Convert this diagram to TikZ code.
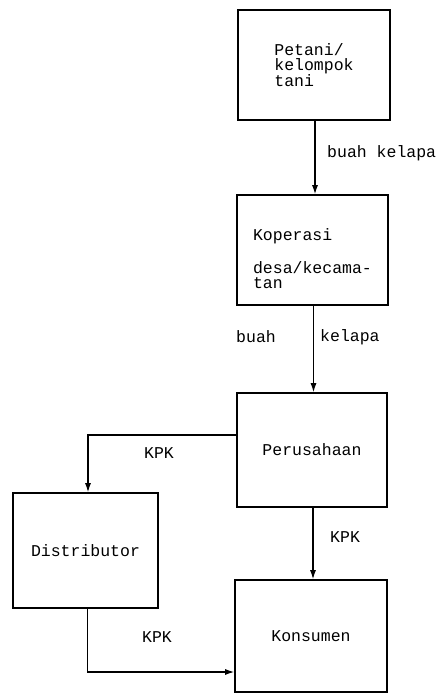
\documentclass[tikz,border=0pt]{standalone}
\usepackage{fontspec}
\setmonofont{Liberation Mono}
\usetikzlibrary{arrows.meta,positioning}

\begin{document}
\begin{tikzpicture}[x=1pt,y=-1pt,
	font=\ttfamily\fontsize{16.5}{15.5}\selectfont,
	blok/.style={draw,line width=1.6pt,align=left,inner sep=0pt},
	alir/.style={line width=1.2pt,-{Latex[length=9pt,width=6pt]}},
	ket/.style={inner sep=1pt}]
	\useasboundingbox (0,0) rectangle (446,695);
	% kotak
	\node[blok,minimum width=152,minimum height=110] (petani) at (314,65) {Petani/\\kelompok\\tani};
	\node[blok,minimum width=151,minimum height=110] (koperasi) at (312.5,250) {\rule{0pt}{30pt}Koperasi\\[17pt]desa/kecama-\\tan};
	\node[blok,minimum width=150,minimum height=114] (perusahaan) at (312,450) {Perusahaan};
	\node[blok,minimum width=145,minimum height=115] (distributor) at (85.5,550.5) {Distributor};
	\node[blok,minimum width=152,minimum height=112] (konsumen) at (311,636) {Konsumen};
	% panah
	\draw[alir] ([xshift=1]petani.south) -- ([xshift=1]petani.south |- koperasi.north);
	\draw[alir] ([xshift=1]koperasi.south) -- ([xshift=1]koperasi.south |- perusahaan.north);
	\draw[alir] ([yshift=15]perusahaan.west) -| ([xshift=2.5]distributor.north);
	\draw[alir] ([xshift=1]perusahaan.south) -- ([xshift=1]perusahaan.south |- konsumen.north);
	\draw[alir] ([xshift=2]distributor.south) |- ([yshift=-36]konsumen.west);
	% label
	\node[ket,anchor=west] (lb1) at (326,153) {buah kelapa};
	\node[ket] (lb2) at (256,337) {buah};
	\node[ket,anchor=west] (lb3) at (319,337) {kelapa};
	\node[ket] (lk1) at (159,453) {KPK};
	\node[ket,anchor=west] (lk2) at (329,537) {KPK};
	\node[ket] (lk3) at (157,637) {KPK};
\end{tikzpicture}
\end{document}
